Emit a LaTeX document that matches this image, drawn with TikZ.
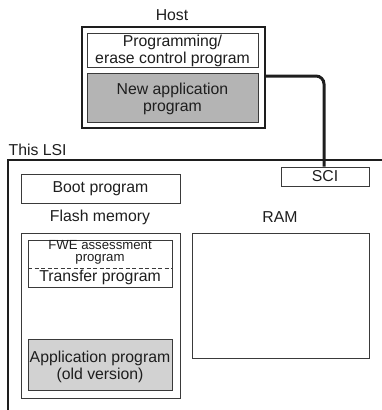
\documentclass[tikz,border=0pt]{standalone}
\usepackage{fontspec}
\setmainfont{Liberation Sans}
\definecolor{ink}{HTML}{1E1E1E}
\definecolor{edge}{HTML}{3A3A3A}
\definecolor{darkfill}{HTML}{B4B4B4}
\definecolor{lightfill}{HTML}{D2D2D2}
\begin{document}
\begin{tikzpicture}[x=1pt,y=-1pt,
  txt/.style={text=ink,font=\fontsize{15.8}{17}\selectfont,align=center,inner sep=0pt},
  smalltxt/.style={text=ink,font=\fontsize{13.2}{12.6}\selectfont,align=center,inner sep=0pt},
  thinbox/.style={draw=edge,line width=0.9pt},
  thickbox/.style={draw=ink,line width=2pt},
  conn/.style={draw=ink,line width=3pt,rounded corners=8pt}]
\useasboundingbox (0,0) rectangle (382,410);
% Host
\node[txt] (hostlbl) at (172,15.5) {Host};
\draw[thickbox] (82,27) rectangle (265,128);
\coordinate (hostR) at (265,76);
\draw[thinbox,fill=white] (87,33) rectangle (258,67);
\node[txt] (prog) at (172.5,50.5) {Programming/\\erase control program};
\draw[thinbox,fill=darkfill] (87,73) rectangle (258,122);
\node[txt] (newapp) at (172.5,99) {New application\\program};
% LSI
\node[txt,anchor=west] (lsilbl) at (8.5,150) {This LSI};
\draw[thickbox] (382,159.5) -- (7.5,159.5) -- (7.5,410);
% SCI
\node[thinbox,txt,minimum width=88pt,minimum height=19pt,inner sep=0pt] (sci) at (325,176.5) {SCI};
\draw[conn] (hostR) -- (324,76) -- (sci.north -| 324,0);
% Boot
\node[thinbox,txt,minimum width=159pt,minimum height=29pt] (boot) at (100.5,188.5) {Boot program};
% Flash memory
\node[txt] (flashlbl) at (100,217) {Flash memory};
\draw[thinbox] (21,233) rectangle (180,398.5);
\draw[thinbox] (28,240) rectangle (172,287);
\node[smalltxt] (fwe) at (100,252.5) {FWE assessment\\program};
\draw[edge,line width=0.8pt,dash pattern=on 4pt off 2.5pt] (28,268) -- (172,268);
\node[txt] (transfer) at (100,277.5) {Transfer program};
\draw[thinbox,fill=lightfill] (28,339) rectangle (172,390);
\node[txt] (app) at (100,367) {Application program\\(old version)};
% RAM
\node[txt] (ramlbl) at (280,217) {RAM};
\draw[thinbox] (192,233) rectangle (369,358);
\end{tikzpicture}
\end{document}
